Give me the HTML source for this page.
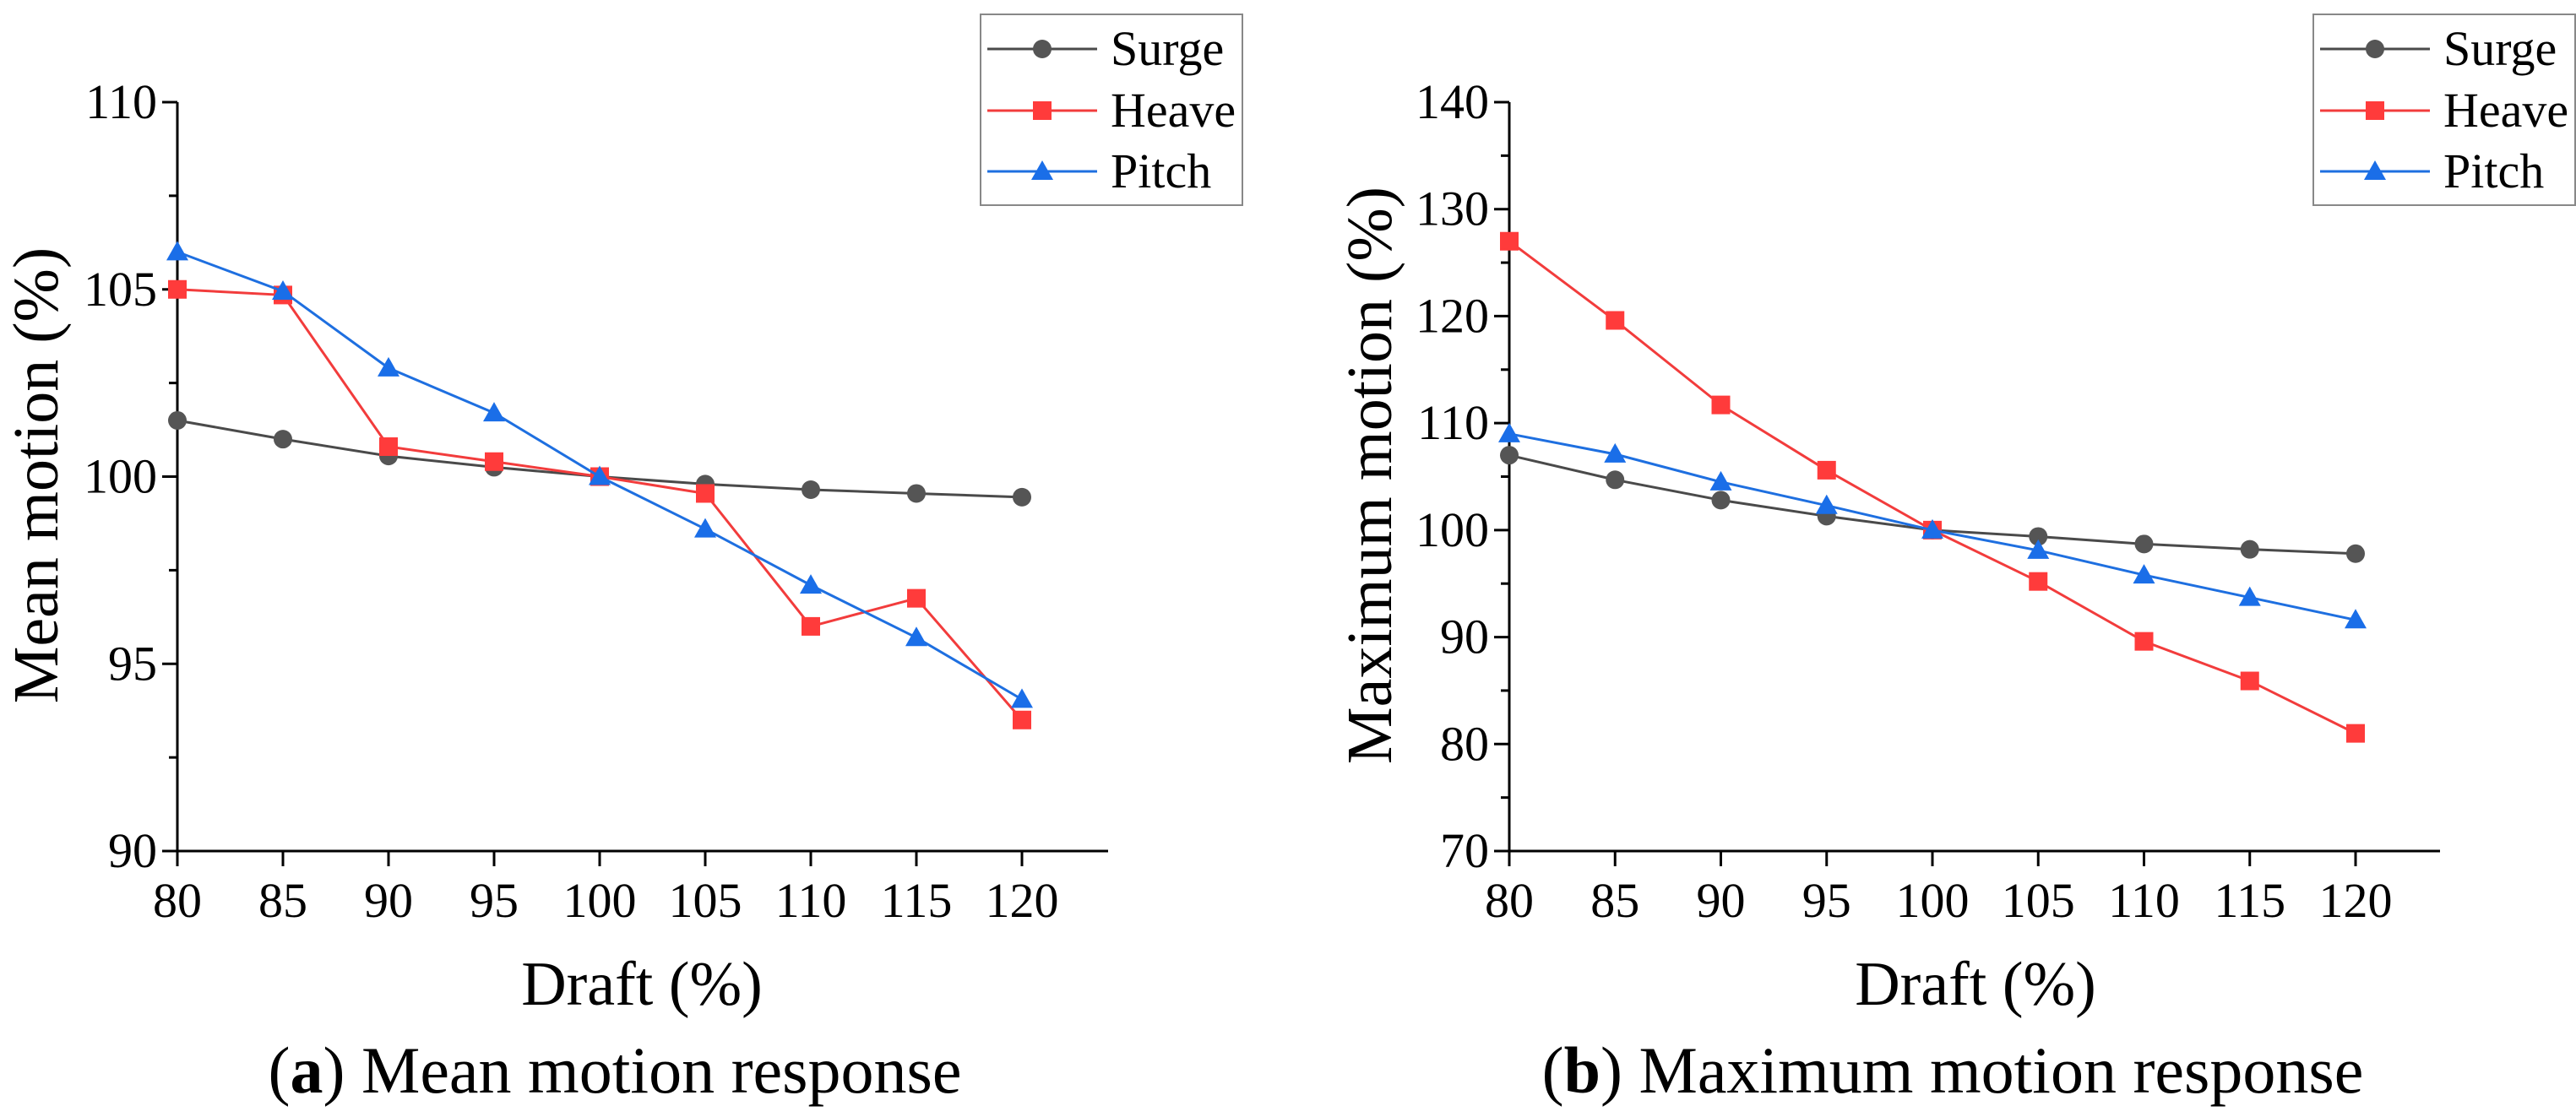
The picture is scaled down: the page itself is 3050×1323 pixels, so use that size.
<!DOCTYPE html>
<html><head><meta charset="utf-8"><style>
html,body{margin:0;padding:0;background:#fff;}
svg{display:block;}
svg text{font-family:"Liberation Serif","DejaVu Serif",serif;}
</style></head><body>
<svg id="fig" width="3050" height="1323" viewBox="0 0 3050 1323" xmlns="http://www.w3.org/2000/svg" font-family="Liberation Serif, serif"></svg>
<script>
const drafts = [80,85,90,95,100,105,110,115,120];
const meanSurge = [101.5,101.0,100.55,100.25,100.0,99.8,99.65,99.55,99.45];
const meanHeave = [105.0,104.85,100.8,100.4,100.0,99.55,96.0,96.75,93.5];
const meanPitch = [106.0,104.95,102.9,101.7,100.0,98.6,97.1,95.7,94.05];
const maxSurge = [107.0,104.7,102.8,101.3,100.0,99.4,98.7,98.2,97.8];
const maxHeave = [127.0,119.6,111.7,105.6,100.0,95.2,89.6,85.9,81.0];
const maxPitch = [109.0,107.1,104.5,102.3,100.0,98.1,95.8,93.7,91.6];
const meanYTicks = [90,95,100,105,110];
const maxYTicks = [70,80,90,100,110,120,130,140];
const seriesNames = ['Surge','Heave','Pitch'];

const NS='http://www.w3.org/2000/svg';
const svg=document.getElementById('fig');
function mk(tag,attrs,parent){const e=document.createElementNS(NS,tag);for(const k in attrs)e.setAttribute(k,attrs[k]);if(tag==='text')e.setAttribute('font-family','Liberation Serif, serif');(parent||svg).appendChild(e);return e;}
const colors={Surge:'#4a4a4a',Heave:'#f23c3c',Pitch:'#1e6fe0'};
const markerCol={Surge:'#555555',Heave:'#ff3b3b',Pitch:'#1a6ee8'};

function marker(g,type,x,y){
  let m;
  if(type==='Surge'){m=mk('circle',{cx:x,cy:y,r:11,fill:markerCol.Surge},g);}
  else if(type==='Heave'){m=mk('rect',{x:x-11,y:y-11,width:22,height:22,fill:markerCol.Heave},g);}
  else {m=mk('polygon',{points:`${x},${y-13} ${x+13},${y+10} ${x-13},${y+10}`,fill:markerCol.Pitch},g);}
  return m;
}

function panel(cfg){
  const g=mk('g',{});
  
  
  const X=v=>cfg.x0+(v-80)/(120-80)*(cfg.x1-cfg.x0);
  const Y=v=>cfg.yb+(v-cfg.ymin)/(cfg.ymax-cfg.ymin)*(cfg.yt-cfg.yb);
  const ax=mk('g',{},g);
  
  
  mk('line',{x1:cfg.x0,y1:cfg.yt,x2:cfg.x0,y2:cfg.yb,stroke:'#000','stroke-width':3},ax);
  mk('line',{x1:cfg.x0,y1:cfg.yb,x2:cfg.xend,y2:cfg.yb,stroke:'#000','stroke-width':3},ax);
  cfg.yticks.forEach((v,i)=>{
    const y=Y(v);
    mk('line',{x1:cfg.x0-18,y1:y,x2:cfg.x0,y2:y,stroke:'#000','stroke-width':3},ax);
    const t=mk('text',{x:cfg.x0-24,y:y+19,'text-anchor':'end','font-size':58},ax);
    t.textContent=v;
    
    
    if(i<cfg.yticks.length-1){const m=(v+cfg.yticks[i+1])/2;
      mk('line',{x1:cfg.x0-10,y1:Y(m),x2:cfg.x0,y2:Y(m),stroke:'#000','stroke-width':3},ax);}
  });
  drafts.forEach(v=>{
    const x=X(v);
    mk('line',{x1:x,y1:cfg.yb,x2:x,y2:cfg.yb+18,stroke:'#000','stroke-width':3},ax);
    const t=mk('text',{x:x,y:cfg.yb+78,'text-anchor':'middle','font-size':58},ax);
    t.textContent=v;
    
    
  });
  const xt=mk('text',{x:cfg.xtx,y:1190,'text-anchor':'middle','font-size':74},g);
  xt.textContent='Draft (%)';
  
  
  const yt=mk('text',{x:0,y:0,'text-anchor':'middle','font-size':76,transform:`translate(${cfg.ytx},${cfg.yty}) rotate(-90)`},g);
  yt.textContent=cfg.ytitle;
  
  
  const cap=mk('text',{x:cfg.capx,y:1294,'text-anchor':'middle','font-size':78},g);
  cap.innerHTML='(<tspan font-weight="bold">'+cfg.letter+'</tspan>) '+cfg.caption;
  
  
  cfg.series.forEach((vals,si)=>{
    const name=seriesNames[si];
    const sg=mk('g',{},g);
    
    
    const pts=vals.map((v,i)=>X(drafts[i])+','+Y(v)).join(' ');
    mk('polyline',{points:pts,fill:'none',stroke:colors[name],'stroke-width':3},sg);
    vals.forEach((v,i)=>{
      const m=marker(sg,name,X(drafts[i]),Y(v));
      
      
    });
  });
  const lg=mk('g',{},g);
  
  
  mk('rect',{x:cfg.lx,y:17,width:310,height:226,fill:'#fff',stroke:'#888','stroke-width':2},lg);
  [58,131,203].forEach((yy,i)=>{
    const name=seriesNames[i];
    const e=mk('g',{},lg);
    
    
    mk('line',{x1:cfg.lx+8,y1:yy,x2:cfg.lx+138,y2:yy,stroke:colors[name],'stroke-width':3},e);
    marker(e,name,cfg.lx+73,yy);
    const t=mk('text',{x:cfg.lx+154,y:yy+19,'font-size':58},e);
    t.textContent=name;
  });
}
panel({id:'mean',x0:210,x1:1210,xend:1312,yt:121,yb:1008,ymin:90,ymax:110,yticks:meanYTicks,
  series:[meanSurge,meanHeave,meanPitch],ytitle:'Mean motion  (%)',ytx:68,yty:563,xtx:760,capx:728,
  letter:'a',caption:'Mean motion response',lx:1161});
panel({id:'max',x0:1787,x1:2789,xend:2889,yt:121,yb:1008,ymin:70,ymax:140,yticks:maxYTicks,
  series:[maxSurge,maxHeave,maxPitch],ytitle:'Maximum motion  (%)',ytx:1647,yty:563,xtx:2339,capx:2312,
  letter:'b',caption:'Maximum motion response',lx:2739});
</script>
</body></html>
